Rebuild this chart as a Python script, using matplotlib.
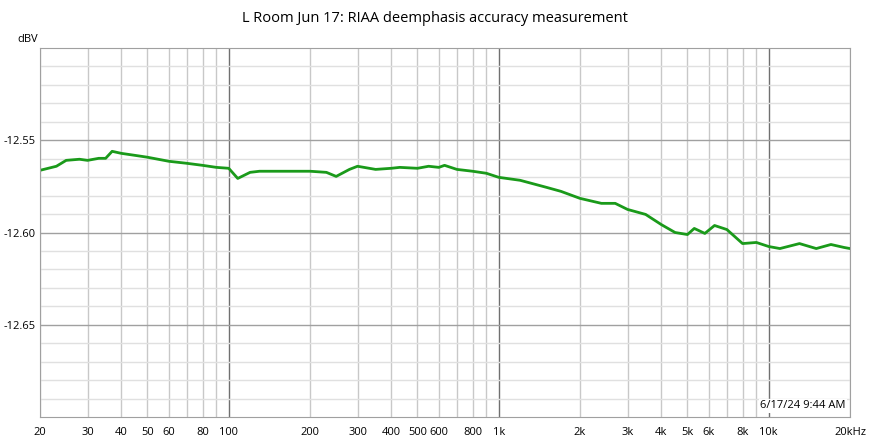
import numpy as np
from matplotlib import pyplot as plt
from matplotlib.ticker import FixedLocator, NullFormatter

plt.rcParams['font.family'] = 'Open Sans'

freqs = [20, 23, 25, 28, 30, 33, 35, 37, 40, 45, 50, 60, 70, 80, 90, 100, 108, 120, 130, 160,
         200, 230, 250, 280, 300, 350, 400, 430, 500, 550, 600, 630, 700, 800, 900, 1000,
         1200, 1500, 1700, 2000, 2400, 2700, 3000, 3500, 4000, 4500, 5000, 5300, 5800, 6300,
         7000, 8000, 9000, 10000, 11000, 13000, 15000, 17000, 19000, 20000]
level = [-12.5663, -12.5641, -12.5609, -12.5603, -12.5609, -12.5598, -12.5598, -12.5560,
         -12.5571, -12.5582, -12.5592, -12.5614, -12.5625, -12.5636, -12.5647, -12.5652,
         -12.5707, -12.5674, -12.5668, -12.5668, -12.5668, -12.5674, -12.5696, -12.5658,
         -12.5641, -12.5658, -12.5652, -12.5647, -12.5652, -12.5641, -12.5647, -12.5636,
         -12.5658, -12.5668, -12.5679, -12.5701, -12.5717, -12.5755, -12.5777, -12.5815,
         -12.5842, -12.5842, -12.5875, -12.5902, -12.5957, -12.6000, -12.6011, -12.5978,
         -12.6005, -12.5962, -12.5984, -12.6060, -12.6054, -12.6076, -12.6087, -12.6060,
         -12.6087, -12.6065, -12.6081, -12.6087]

xtick_vals = [20, 30, 40, 50, 60, 80, 100, 200, 300, 400, 500, 600, 800, 1000,
              2000, 3000, 4000, 5000, 6000, 8000, 10000, 20000]
xtick_text = ['20', '30', '40', '50', '60', '80', '100', '200', '300', '400', '500', '600', '800', '1k',
              '2k', '3k', '4k', '5k', '6k', '8k', '10k', '20kHz']
ytick_vals = [-12.55, -12.60, -12.65]

fig = plt.figure(figsize=(8.7, 4.41), dpi=100)
ax = fig.add_axes([40 / 870, 24 / 441, 810 / 870, 369 / 441])
ax.set_xscale('log')
ax.set_xlim(20, 20000)
ax.set_ylim(-12.70, -12.50)

grid_x = [m * 10 ** d for d in range(1, 5) for m in range(1, 10) if 20 <= m * 10 ** d <= 20000]
for gx in grid_x:
    dark = gx in (100, 1000, 10000)
    ax.axvline(gx, color='#707070' if dark else '#c8c8c8', lw=1, zorder=0)
for gy in np.arange(-12.69, -12.50, 0.01):
    major = any(abs(gy - t) < 1e-6 for t in ytick_vals)
    ax.axhline(gy, color='#a0a0a0' if major else '#e0e0e0', lw=1, zorder=0)

ax.plot(freqs, level, color='#1a9a1a', lw=2, solid_joinstyle='round')

ax.xaxis.set_major_locator(FixedLocator(xtick_vals))
ax.set_xticklabels(xtick_text)
ax.xaxis.set_minor_formatter(NullFormatter())
ax.tick_params(axis='x', which='both', length=0, labelsize=8, pad=7)
ax.set_yticks(ytick_vals)
ax.set_yticklabels(['-12.55', '-12.60', '-12.65'])
ax.tick_params(axis='y', length=0, labelsize=8, pad=3)
for s in ax.spines.values():
    s.set_color('#a0a0a0')

fig.text(38 / 870, 1 - 40 / 441, 'dBV', ha='right', va='center', fontsize=8)
fig.text(0.5, 1 - 18 / 441, 'L Room Jun 17: RIAA deemphasis accuracy measurement', ha='center', va='center', fontsize=10.5)
ax.text(0.995, 0.015, '6/17/24 9:44 AM', transform=ax.transAxes, ha='right', va='bottom', fontsize=8,
        bbox=dict(facecolor='white', edgecolor='none', pad=1))

fig.savefig('out.png', dpi=100)
